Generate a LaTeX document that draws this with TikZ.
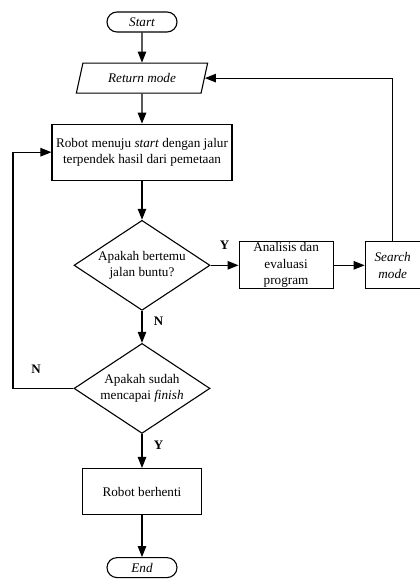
\documentclass[tikz,border=0pt]{standalone}
\usepackage{fontspec}
\setmainfont{Liberation Serif}
\usetikzlibrary{positioning}
\usetikzlibrary{shapes.geometric}
\usetikzlibrary{arrows.meta}

\begin{document}
\begin{tikzpicture}[
	every node/.style={font=\fontsize{13.2}{16.5}\selectfont, align=center},
	term/.style={draw, line width=1.1pt, rounded corners=10pt, minimum width=70pt, minimum height=20pt, inner sep=0pt, font=\fontsize{13.2}{16.5}\selectfont\itshape},
	io/.style={draw, line width=1.1pt, trapezium, trapezium left angle=68, trapezium right angle=112, trapezium stretches=true, minimum width=132pt, minimum height=30pt, inner sep=0pt, font=\fontsize{13.2}{16.5}\selectfont\itshape},
	proc/.style={draw, line width=1.1pt, inner sep=0pt},
	decide/.style={draw, line width=1.1pt, diamond, aspect=1.5, minimum width=136pt, minimum height=90pt, inner sep=-1.5pt},
	lbl/.style={font=\fontsize{13}{16.5}\selectfont\bfseries},
	arr/.style={line width=1.1pt, -{Triangle[length=11pt,width=8.5pt]}}
]
		\useasboundingbox (-142pt,22pt) rectangle (278pt,-557pt);
		\node [term] at (0,0) (start) {Start};
		\node [io, below=30pt of start] (ret) {Return mode};
		\node [proc, below=30pt of ret, minimum width=180pt, minimum height=56pt] (robot) {Robot menuju \textit{start} dengan jalur\\terpendek hasil dari pemetaan};
		\node [decide, below=39pt of robot] (buntu) {Apakah bertemu\\jalan buntu?};
		\node [proc, right=28pt of buntu, minimum width=94pt, minimum height=47pt] (analisis) {Analisis dan\\evaluasi\\program};
		\node [proc, right=31pt of analisis, minimum width=55pt, minimum height=47pt, font=\fontsize{13.2}{16.5}\selectfont\itshape] (search) {Search\\mode};
		\node [decide, below=32pt of buntu] (finish) {Apakah sudah\\mencapai \textit{finish}};
		\node [proc, below=34pt of finish, minimum width=119pt, minimum height=46pt] (stop) {Robot berhenti};
		\node [term, below=42pt of stop] (end) {End};
		\coordinate (lft) at (-129pt,0);

		\draw [arr] (start) -- (ret);
		\draw [arr] (ret) -- (robot);
		\draw [arr] (robot) -- (buntu);
		\draw [arr] (buntu) -- node [lbl, above=12pt] {Y} (analisis);
		\draw [arr] (analisis) -- (search);
		\draw [arr] (search.north) |- (ret.east);
		\draw [arr] (buntu) -- node [lbl, pos=0.32, right=8pt] {N} (finish);
		\draw [arr] (finish.west) -- node [lbl, pos=0.62, above=11pt] {N} (finish.west -| lft) |- (robot.west);
		\draw [arr] (finish) -- node [lbl, pos=0.33, right=8pt] {Y} (stop);
		\draw [arr] (stop) -- (end);
\end{tikzpicture}
\end{document}
